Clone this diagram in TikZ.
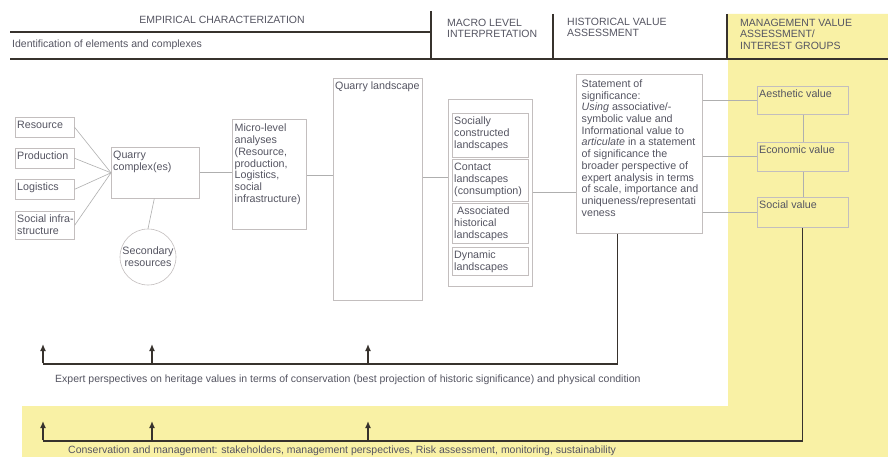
\documentclass[tikz,border=0pt]{standalone}
\usepackage{fontspec}
\setmainfont{Liberation Sans}
\usetikzlibrary{arrows.meta}
\definecolor{ylw}{RGB}{249,241,165}
\definecolor{txtc}{RGB}{85,85,98}
\definecolor{boxc}{RGB}{195,190,190}
\definecolor{lnc}{RGB}{175,175,175}
\definecolor{thk}{RGB}{55,50,45}
\tikzset{
  box/.style={draw=boxc, line width=0.6pt, inner sep=0pt, anchor=north west},
  txt/.style={inner sep=0pt, anchor=north west, align=left, text=txtc, font=\fontsize{10.7}{11.7}\selectfont},
  htxt/.style={inner sep=0pt, align=left, text=txtc, font=\fontsize{10.5}{11.3}\selectfont},
  btxt/.style={inner sep=0pt, text=txtc, font=\fontsize{10.5}{11}\selectfont},
  conn/.style={draw=lnc, line width=0.6pt},
  heavy/.style={draw=thk, line width=1.3pt},
  hdr/.style={draw=thk, line width=1.2pt},
  uparrow/.style={draw=thk, line width=1.3pt, -{Latex[length=7pt,width=6pt]}}
}
\newcommand{\bx}[7]{%
  \node[box, minimum width=#4pt, minimum height=#5pt] (#1) at (#2,#3) {};
  \node[txt] at ([shift={#6}]#1.north west) {#7};}
\begin{document}
\begin{tikzpicture}[x=1pt,y=-1pt]
\useasboundingbox (0,0) rectangle (888,457);
\fill[white] (0,0) rectangle (888,457);
% yellow region
\fill[ylw] (728,14) -- (888,14) -- (888,457) -- (22,457) -- (22,406) -- (728,406) -- cycle;
% header lines
\draw[hdr] (10,32) -- (431,32);
\draw[hdr] (431,11) -- (431,59);
\draw[hdr] (10,59) -- (888,59);
\draw[hdr] (553,14) -- (553,59);
\draw[hdr] (727,14) -- (727,59);
% header texts
\node[htxt] (h1) at (222,20) {EMPIRICAL CHARACTERIZATION};
\node[htxt, anchor=west] (h2) at (12,45) {Identification of elements and complexes};
\node[htxt, anchor=north west] (h3) at (447,19) {MACRO LEVEL\\INTERPRETATION};
\node[htxt, anchor=north west] (h4) at (567,18) {HISTORICAL VALUE\\ASSESSMENT};
\node[htxt, anchor=north west] (h5) at (740,19) {MANAGEMENT VALUE\\ASSESSMENT/\\INTEREST GROUPS};
% left boxes
\bx{res}{15}{117}{59}{20}{(2pt,-4pt)}{Resource}
\bx{prod}{15}{148}{59}{20}{(2pt,-4pt)}{Production}
\bx{logi}{15}{179}{59}{20}{(2pt,-4pt)}{Logistics}
\bx{soci}{15}{211}{59}{28}{(2pt,-4pt)}{Social infra-\\structure}
\bx{qc}{111}{147}{88}{51}{(2pt,-4pt)}{Quarry\\complex(es)}
\node[draw=boxc, line width=0.6pt, circle, minimum size=56pt, inner sep=0pt, align=center, text=txtc, font=\fontsize{10.7}{11.7}\selectfont] (sec) at (148,257) {Secondary\\resources};
\bx{micro}{232}{119}{74}{110}{(2.5pt,-5pt)}{Micro-level\\analyses\\(Resource,\\production,\\Logistics,\\social\\infrastructure)}
\bx{ql}{333}{78}{89}{222}{(2pt,-4pt)}{Quarry landscape}
\node[box, minimum width=84pt, minimum height=187pt] (macro) at (448,99) {};
\bx{s1}{452}{113}{76}{44}{(2pt,-4pt)}{Socially\\constructed\\landscapes}
\bx{s2}{452}{159}{76}{42}{(2pt,-4pt)}{Contact\\landscapes\\(consumption)}
\bx{s3}{452}{203}{76}{40}{(2pt,-4pt)}{\ Associated\\historical\\landscapes}
\bx{s4}{452}{247}{76}{28}{(2pt,-4pt)}{Dynamic\\landscapes}
\bx{stmt}{576}{74}{126}{159}{(5.5pt,-5.5pt)}{Statement of\\significance:\\\textit{Using} associative/-\\symbolic value and\\Informational value to\\\textit{articulate} in a statement\\of significance the\\broader perspective of\\expert analysis in terms\\of scale, importance and\\uniqueness/representati\\veness}
\bx{aes}{757}{86}{91}{28}{(2pt,-4pt)}{Aesthetic value}
\bx{eco}{757}{142}{91}{29}{(2pt,-4pt)}{Economic value}
\bx{socv}{757}{197}{91}{30}{(2pt,-4pt)}{Social value}
% helper coordinates
\coordinate (m1) at ([yshift=-1.5pt]micro.east);
\coordinate (q1) at ([yshift=12pt]ql.east);
\coordinate (st1) at ([xshift=-22pt]stmt.south);
% thin connectors
\draw[conn] (res.east) -- (qc.west);
\draw[conn] (prod.east) -- (qc.west);
\draw[conn] (logi.east) -- (qc.west);
\draw[conn] (soci.east) -- (qc.west);
\draw[conn] ([xshift=-1pt]qc.south) -- (sec.north);
\draw[conn] (qc.east) -- (micro.west |- qc.east);
\draw[conn] (m1) -- (ql.west |- m1);
\draw[conn] (q1) -- (macro.west |- q1);
\draw[conn] (macro.east) -- (stmt.west |- macro.east);
\draw[conn] (stmt.east |- aes.west) -- (aes.west);
\draw[conn] (stmt.east |- eco.west) -- (eco.west);
\draw[conn] (stmt.east |- socv.west) -- (socv.west);
\draw[conn] (aes.south) -- (eco.north);
\draw[conn] (eco.south) -- (socv.north);
% heavy feedback lines
\coordinate (e0) at (43,364);
\coordinate (e1) at (152,364);
\coordinate (e2) at (368,364);
\coordinate (c0) at (43,441);
\coordinate (c1) at (152,441);
\coordinate (c2) at (368,441);
\draw[heavy] (st1) -- (st1 |- e0) -- (e0);
\draw[heavy] (socv.south) -- (socv.south |- c0) -- (c0);
\foreach \p in {e0,e1,e2,c0,c1,c2}{
  \draw[uparrow] ([yshift=0.6pt]\p) -- ([yshift=20pt]\p);
}
\node[btxt, anchor=west] (t1) at (55,380) {Expert perspectives on heritage values in terms of conservation (best projection of historic significance) and physical condition};
\node[btxt, anchor=west] (t2) at (68,450.5) {Conservation and management: stakeholders, management perspectives, Risk assessment, monitoring, sustainability};
\end{tikzpicture}
\end{document}
